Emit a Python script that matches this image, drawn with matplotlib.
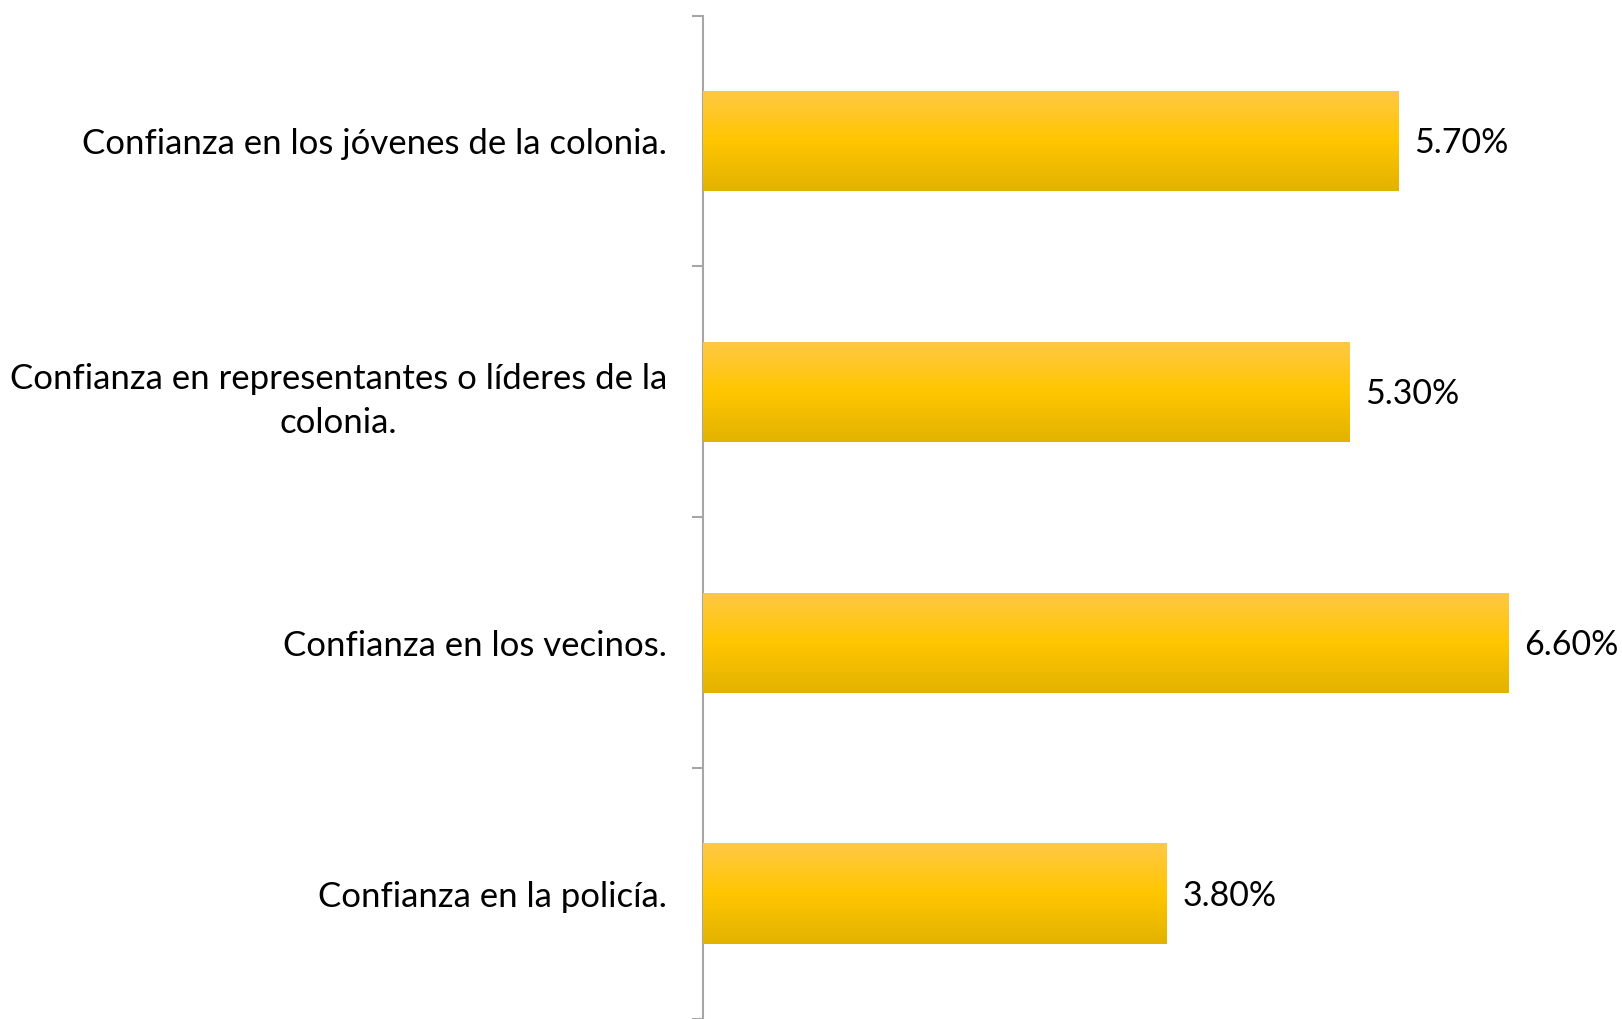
import matplotlib.pyplot as plt
import numpy as np
from matplotlib.colors import LinearSegmentedColormap

categories = ['Confianza en los jóvenes de la colonia.',
              'Confianza en representantes o líderes de la\ncolonia.',
              'Confianza en los vecinos.',
              'Confianza en la policía.']
values = [5.7, 5.3, 6.6, 3.8]
value_labels = ['5.70%', '5.30%', '6.60%', '3.80%']

plt.rcParams['font.family'] = ['Lato', 'DejaVu Sans']

fig = plt.figure(figsize=(16.22, 10.19), dpi=100)
ax = fig.add_axes([703 / 1622, 0.0, (1557 - 703) / 1622, 1 - 15.5 / 1019])

y = np.arange(len(categories))
bars = ax.barh(y, values, height=0.4, color='#FFC600', zorder=2)

# vertical gradient on each bar
cmap = LinearSegmentedColormap.from_list('gold', ['#FFC845', '#FFC600', '#E3B200'])
grad = np.linspace(0, 1, 256).reshape(-1, 1)
for b in bars:
    x0, y0 = b.get_x(), b.get_y()
    w, h = b.get_width(), b.get_height()
    # y axis is inverted, so top of bar is y0
    im = ax.imshow(grad, cmap=cmap, aspect='auto', extent=(x0, x0 + w, y0 + h, y0),
                   zorder=3, interpolation='bicubic')
    im.set_clip_path(b)

for yi, v, lab in zip(y, values, value_labels):
    ax.text(v + 0.13, yi + 0.01, lab, va='center', ha='left', fontsize=24.5)

ax.set_xlim(0, 7)
ax.set_ylim(len(categories) - 0.5, -0.5)
ax.set_yticks(y)
ax.set_yticklabels(categories, fontsize=25)
ax.tick_params(axis='y', which='major', length=0, pad=26)
ax.set_yticks(np.arange(-0.5, len(categories), 1.0), minor=True)
ax.tick_params(axis='y', which='minor', length=8, color='#A6A6A6', width=1.5)
for t in ax.get_yticklabels():
    t.set_ha('right')
    t.set_multialignment('center')
    t.set_linespacing(1.45)

ax.set_xticks([])
for s in ['top', 'right', 'bottom']:
    ax.spines[s].set_visible(False)
ax.spines['left'].set_color('#A6A6A6')
ax.spines['left'].set_linewidth(1.5)

fig.savefig('out.png', dpi=100)
